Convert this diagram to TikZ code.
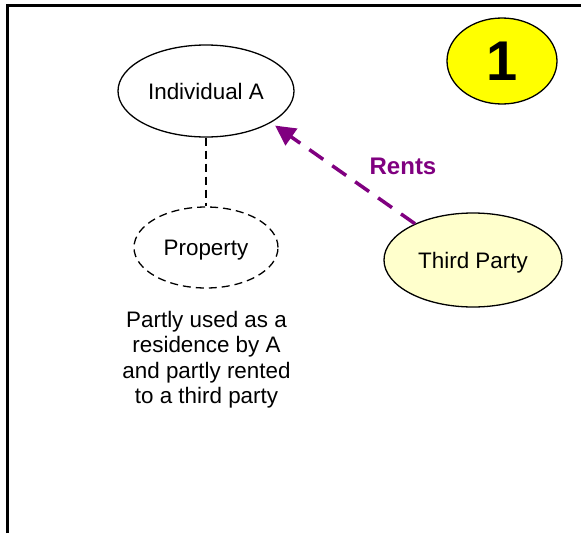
\documentclass[tikz,border=0pt]{standalone}
\usepackage{fontspec}
\setmainfont{Liberation Sans}
\usetikzlibrary{shapes.geometric,arrows.meta}
\definecolor{rentpurple}{HTML}{800080}
\definecolor{paleyellow}{HTML}{FFFFCC}
\definecolor{badgeyellow}{HTML}{FFFF00}
\begin{document}
\begin{tikzpicture}[x=1pt,y=-1pt,
  party/.style={ellipse,draw=black,line width=1.3pt,inner sep=0pt,text depth=0pt,
    font=\fontsize{22.4}{26}\selectfont},
  dashline/.style={line width=1.3pt,dash pattern=on 8pt off 5pt}]
  \useasboundingbox (0,0) rectangle (581,533);
  % frame: top and left edges
  \draw[line width=3pt] (7,533) -- (7,5) -- (581,5);
  % people and property
  \node[party,minimum width=176pt,minimum height=92pt] (ia) at (206,91) {Individual A};
  \node[party,dashline,minimum width=144pt,minimum height=81pt] (prop) at (206,247.5) {Property};
  \node[party,fill=paleyellow,minimum width=178pt,minimum height=94pt] (tp) at (473,260) {Third Party};
  \draw[dashline] (ia) -- (prop);
  % note under the property
  \node[align=center,font=\fontsize{22.4}{25.5}\selectfont] (note) at (206.5,359.5)
    {Partly used as a\\residence by A\\and partly rented\\to a third party};
  % rent arrow
  \draw[rentpurple,line width=3.5pt,dash pattern=on 17pt off 11pt,
    -{Triangle[length=20pt,width=20pt]},shorten >=5pt] (tp.148) -- (ia.-26);
  \node[text=rentpurple,font=\fontsize{24}{28}\bfseries\selectfont] (rents) at (403,166) {Rents};
  % number badge
  \node[ellipse,draw=black,line width=1.3pt,fill=badgeyellow,minimum width=110pt,
    minimum height=86pt,inner sep=0pt,font=\fontsize{56}{60}\bfseries\selectfont] (badge) at (502,61) {1};
\end{tikzpicture}
\end{document}
